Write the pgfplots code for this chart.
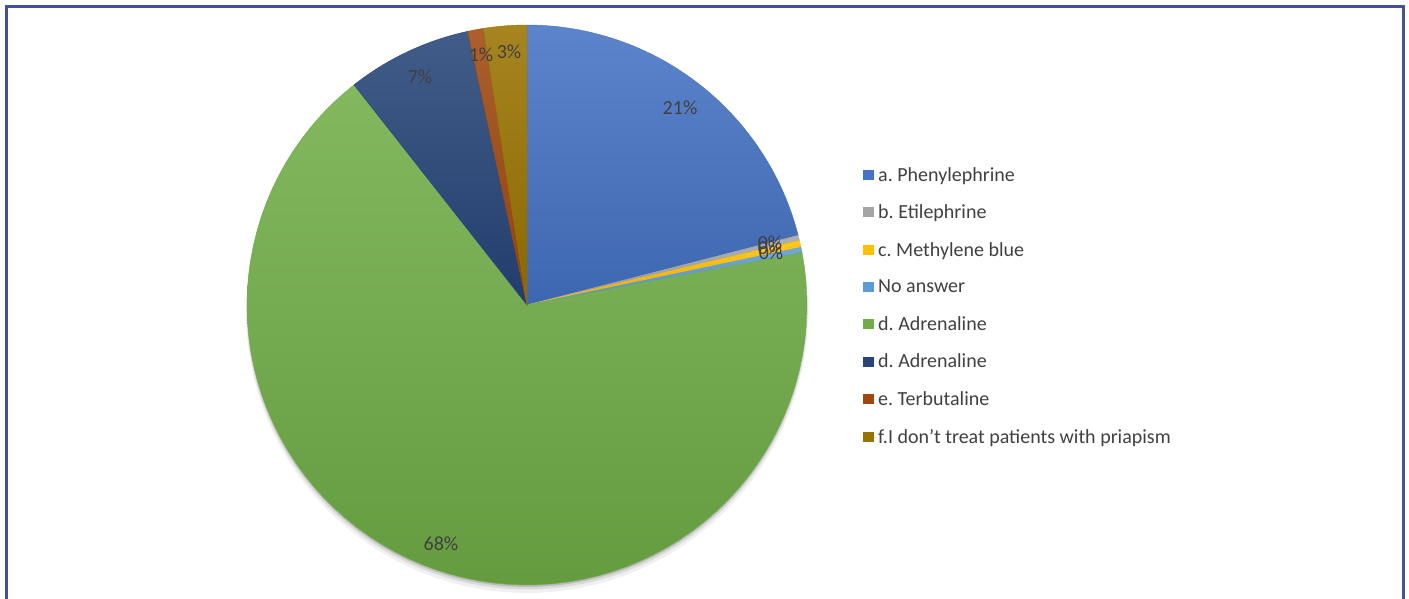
\documentclass[border=0pt]{standalone}
\usepackage{pgfplots}
\usepackage{pgfplotstable}
\usepackage{fontspec}
\setmainfont{Carlito}
\pgfplotsset{compat=1.18}

\definecolor{cA}{HTML}{4472C4}
\definecolor{cB}{HTML}{A5A5A5}
\definecolor{cC}{HTML}{FFC000}
\definecolor{cD}{HTML}{5B9BD5}
\definecolor{cE}{HTML}{70AD47}
\definecolor{cF}{HTML}{264478}
\definecolor{cG}{HTML}{9E480E}
\definecolor{cH}{HTML}{997300}
\definecolor{txt}{HTML}{404040}
\definecolor{frame}{RGB}{70,80,152}

% share of each answer, in per cent, clockwise from 12 o'clock
\pgfplotstableread{
idx pct
0 21.0
1 0.3
2 0.4
3 0.3
4 67.4
5 7.2
6 0.9
7 2.5
}\piedata

\newcommand\computeangles{%
  \xdef\curang{90}%
  \foreach \i in {0,...,7}{%
    \pgfplotstablegetelem{\i}{pct}\of\piedata
    \pgfmathsetmacro\newang{\curang-3.6*\pgfplotsretval}%
    \expandafter\xdef\csname sA\i\endcsname{\curang}%
    \expandafter\xdef\csname eA\i\endcsname{\newang}%
    \xdef\curang{\newang}%
  }}
\computeangles

\newcommand\slice[2]{%
  \edef\tmp{\noexpand\addplot[forget plot, draw=#2, line width=0.4pt,
     top color=#2!87!white, bottom color=#2!90!black,
     domain=\csname eA#1\endcsname:\csname sA#1\endcsname, samples=80, variable=\noexpand\t]
     ({527+280*cos(\noexpand\t)},{305-280*sin(\noexpand\t)}) -- (axis cs:527,305) -- cycle;}%
  \tmp}

\begin{document}
\frenchspacing
\begin{tikzpicture}
\begin{axis}[
  width=1409pt, height=599pt, scale only axis,
  xmin=0, xmax=1409, ymin=0, ymax=599, y dir=reverse,
  axis lines=none, clip=true,
  legend image code/.code={\fill[#1] (0pt,-5pt) rectangle (10.5pt,5pt); \path (0pt,0pt) -- (13pt,0pt);},
  legend style={at={(axis cs:863,165)}, anchor=north west, draw=none, fill=none,
    font=\fontsize{20}{24}\selectfont, text=txt, row sep=18.2pt,
    inner sep=0pt, nodes={inner sep=2pt}},
  legend cell align=left,
]
\path (axis cs:0,0) rectangle (axis cs:1409,599);
% soft shadow
\addplot[forget plot, draw=none, fill=black, fill opacity=0.06, domain=0:360, samples=120, variable=\t]
  ({527+281*cos(\t)},{312-281*sin(\t)}) -- cycle;
\addplot[forget plot, draw=none, fill=black, fill opacity=0.09, domain=0:360, samples=120, variable=\t]
  ({527+280.5*cos(\t)},{309-280.5*sin(\t)}) -- cycle;
\addplot[forget plot, draw=none, fill=black, fill opacity=0.14, domain=0:360, samples=120, variable=\t]
  ({527+280*cos(\t)},{307-280*sin(\t)}) -- cycle;

\slice{0}{cA}
\slice{1}{cB}
\slice{2}{cC}
\slice{3}{cD}
\slice{4}{cE}
\slice{5}{cF}
\slice{6}{cG}
\slice{7}{cH}

\addlegendimage{fill=cA, draw=none}
\addlegendimage{fill=cB, draw=none}
\addlegendimage{fill=cC, draw=none}
\addlegendimage{fill=cD, draw=none}
\addlegendimage{fill=cE, draw=none}
\addlegendimage{fill=cF, draw=none}
\addlegendimage{fill=cG, draw=none}
\addlegendimage{fill=cH, draw=none}
\legend{a. Phenylephrine, b. Etilephrine, c. Methylene blue, No answer, d. Adrenaline, d. Adrenaline, e. Terbutaline, f.I don{\char"0027}t treat patients with priapism}

\begin{scope}[every node/.style={font=\fontsize{20}{24}\selectfont, text=txt, inner sep=0pt}]
\node at (axis cs:680,108) {21\%};
\node at (axis cs:770,243) {0\%};
\node at (axis cs:770,248) {0\%};
\node at (axis cs:771,253) {0\%};
\node at (axis cs:441,544) {68\%};
\node at (axis cs:420,77) {7\%};
\node at (axis cs:481,55) {1\%};
\node at (axis cs:509,52) {3\%};
\end{scope}

\draw[frame, line width=2.2pt] (axis cs:6.5,599) -- (axis cs:6.5,6.5) -- (axis cs:1403.5,6.5) -- (axis cs:1403.5,599);
\end{axis}
\end{tikzpicture}
\end{document}
